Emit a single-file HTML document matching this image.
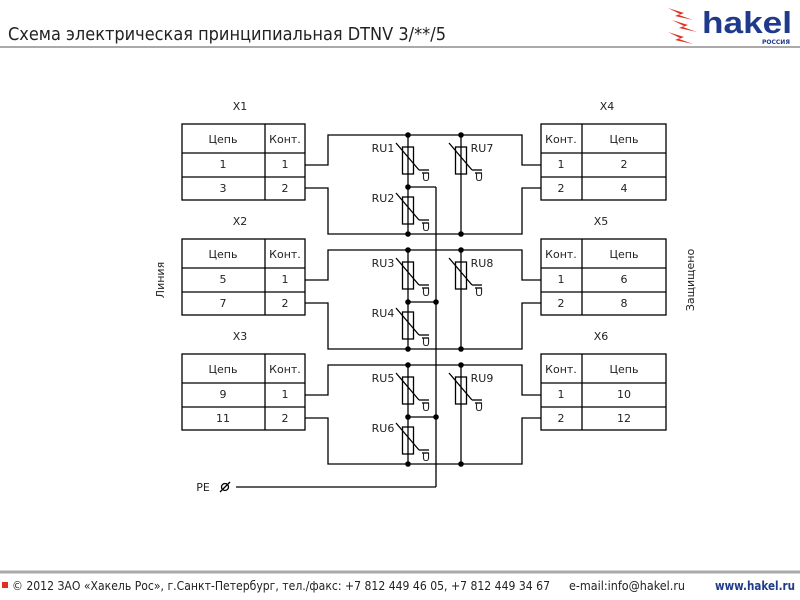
<!DOCTYPE html>
<html><head><meta charset="utf-8"><style>
body{margin:0;background:#fff;width:800px;height:600px;overflow:hidden;font-family:"Liberation Sans","DejaVu Sans",sans-serif}
svg{position:absolute;left:0;top:0}
</style></head><body>
<svg id="s" width="800" height="600" xmlns="http://www.w3.org/2000/svg" font-family="DejaVu Sans, Liberation Sans, sans-serif">
<text x="8" y="40" font-size="18" fill="#222" font-family="DejaVu Sans, sans-serif" textLength="438" lengthAdjust="spacingAndGlyphs">Схема электрическая принципиальная DTNV 3/**/5</text>
<line x1="0" y1="47" x2="800" y2="47" stroke="#aaa" stroke-width="2"/>
<g transform="translate(668,6)">
<path d="M0,2 L16,7 L11,9 L25,14 L7,10 L12,8Z" fill="#e03020"/>
<path d="M4,14 L20,19 L15,21 L29,26 L11,22 L16,20Z" fill="#e03020"/>
<path d="M0,26 L16,31 L11,33 L25,38 L7,34 L12,32Z" fill="#e03020"/>
</g>
<text x="702" y="33" font-size="31" font-weight="bold" fill="#1f3a8a" font-family="Liberation Sans, sans-serif" textLength="90" lengthAdjust="spacingAndGlyphs">hakel</text>
<text x="762" y="44" font-size="6" font-weight="bold" fill="#1f3a8a">РОССИЯ</text>
<line x1="0" y1="572" x2="800" y2="572" stroke="#aaa" stroke-width="3"/>
<rect x="2" y="582" width="6" height="6" fill="#e03020"/>
<text x="12" y="590" font-size="12" fill="#222" font-family="DejaVu Sans, sans-serif" textLength="538" lengthAdjust="spacingAndGlyphs">© 2012 ЗАО «Хакель Рос», г.Санкт-Петербург, тел./факс: +7 812 449 46 05, +7 812 449 34 67</text>
<text x="569" y="590" font-size="12" fill="#222" font-family="DejaVu Sans, sans-serif" textLength="116" lengthAdjust="spacingAndGlyphs">e-mail:info@hakel.ru</text>
<text x="715" y="590" font-size="12" font-weight="bold" fill="#1f3a8a" font-family="DejaVu Sans, sans-serif" textLength="80" lengthAdjust="spacingAndGlyphs">www.hakel.ru</text>
<g id="d" stroke="#000" fill="none" stroke-width="1.3"></g>
<g id="t" font-size="11" fill="#222" text-anchor="middle"></g>
</svg>
<script>
var d=document.getElementById('d'),t=document.getElementById('t'),out='',txt='';
function L(a,b,c,e){out+='<line x1="'+a+'" y1="'+b+'" x2="'+c+'" y2="'+e+'"/>';}
function P(p){out+='<polyline points="'+p+'"/>';}
function dot(x,y){out+='<circle cx="'+x+'" cy="'+y+'" r="2.8" fill="#000" stroke="none"/>';}
function T(x,y,s,a){txt+='<text x="'+x+'" y="'+y+'"'+(a?' text-anchor="'+a+'"':'')+'>'+s+'</text>';}
function res(x,y,lab,lx){
 out+='<rect x="'+(x-5.5)+'" y="'+y+'" width="11" height="27"/>';
 L(x-12,y-4,x+11,y+23);L(x+11,y+23,x+21,y+23);
 T(x+18,y+34,'U');L(x+14,y+26,x+21,y+26);
 T(x+lx,y+5,lab);
}
var tops=[135,250,365],names=[['X1','X4'],['X2','X5'],['X3','X6']],ru=[['RU1','RU2','RU7'],['RU3','RU4','RU8'],['RU5','RU6','RU9']];
var num=[['1','3','2','4'],['5','7','6','8'],['9','11','10','12']];
for(var i=0;i<3;i++){
 var t0=tops[i],m=t0+52,b=t0+99,ty=t0-11;
 out+='<rect x="182" y="'+ty+'" width="123" height="76"/>';L(182,ty+29,305,ty+29);L(182,ty+53,305,ty+53);L(265,ty,265,ty+76);
 out+='<rect x="541" y="'+ty+'" width="125" height="76"/>';L(541,ty+29,666,ty+29);L(541,ty+53,666,ty+53);L(582,ty,582,ty+76);
 T(223,ty+19,'Цепь');T(285,ty+19,'Конт.');T(223,ty+44,num[i][0]);T(285,ty+44,'1');T(223,ty+68,num[i][1]);T(285,ty+68,'2');
 T(561,ty+19,'Конт.');T(624,ty+19,'Цепь');T(561,ty+44,'1');T(624,ty+44,num[i][2]);T(561,ty+68,'2');T(624,ty+68,num[i][3]);
 T(240,ty-14,names[i][0]);T(i==0?607:601,ty-14,names[i][1]);
 P('305,'+(ty+41)+' 328,'+(ty+41)+' 328,'+t0+' 522,'+t0+' 522,'+(ty+41)+' 541,'+(ty+41));
 P('305,'+(ty+64)+' 328,'+(ty+64)+' 328,'+b+' 522,'+b+' 522,'+(ty+64)+' 541,'+(ty+64));
 L(408,t0,408,b);L(461,t0,461,b);
 dot(408,t0);dot(461,t0);dot(408,m);dot(408,b);dot(461,b);
 L(408,m,436,m);
 if(i>0)dot(436,m);
 res(408,t0+12,ru[i][0],-25);res(408,t0+62,ru[i][1],-25);res(461,t0+12,ru[i][2],21);
}
L(436,187,436,487);L(236,487,436,487);
out+='<circle cx="225" cy="487" r="3.5"/>';L(220,492,230,482);
T(203,491,'PE');
d.innerHTML=out;
t.innerHTML=txt+'<text transform="translate(164,280) rotate(-90)">Линия</text><text transform="translate(694,280) rotate(-90)">Защищено</text>';
</script>
</body></html>
